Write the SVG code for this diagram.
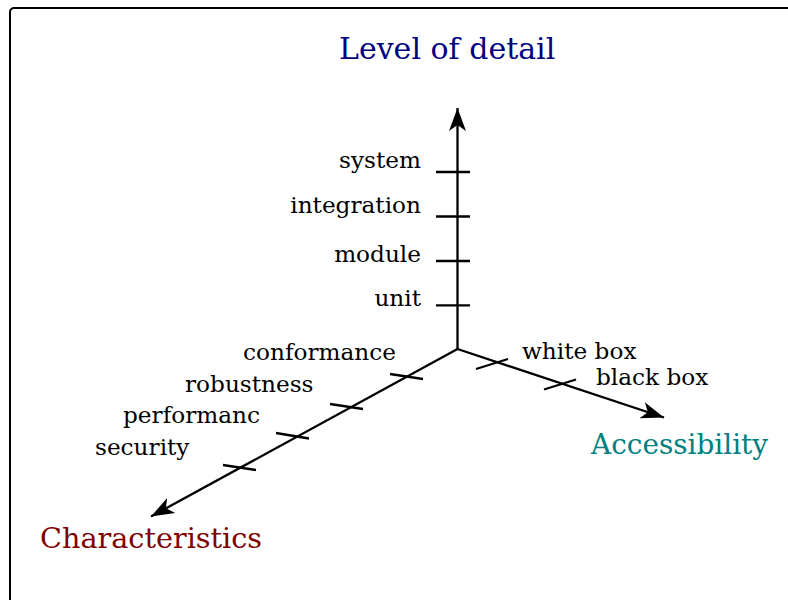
<svg xmlns="http://www.w3.org/2000/svg" width="788" height="600" viewBox="0 0 788 600">
<style>
.lbl{font-family:"DejaVu Serif",serif;font-size:23.2px;fill:#000}
.ttl{font-family:"DejaVu Serif",serif}
.ax{stroke:#000;stroke-width:2.3;fill:none}
.tk{stroke:#000;stroke-width:2.3;fill:none}
</style>
<defs>
<marker id="arr" markerUnits="userSpaceOnUse" markerWidth="30" markerHeight="20" viewBox="-24 -10 26 20" refX="0" refY="0" orient="auto">
<path d="M0,0 L-23,-8.5 L-17,0 L-23,8.5 z" fill="#000"/>
</marker>
</defs>
<rect x="10" y="8" width="800" height="620" rx="4" fill="#fff" stroke="#000" stroke-width="2"/>
<g id="connectors">
<line class="ax" x1="457.5" y1="349" x2="457.5" y2="108" marker-end="url(#arr)"/>
<line class="ax" x1="457.5" y1="349" x2="664" y2="417.5" marker-end="url(#arr)"/>
<line class="ax" x1="457.5" y1="349" x2="151" y2="516.5" marker-end="url(#arr)"/>
</g>
<g id="ticks">
<line class="tk" x1="436" y1="172" x2="470" y2="172"/>
<line class="tk" x1="436" y1="216.5" x2="470" y2="216.5"/>
<line class="tk" x1="436" y1="261" x2="470" y2="261"/>
<line class="tk" x1="436" y1="305.3" x2="470" y2="305.3"/>
<line class="tk" x1="476" y1="369" x2="508" y2="359"/>
<line class="tk" x1="544" y1="389.5" x2="576" y2="379.5"/>
<line class="tk" x1="390" y1="374" x2="423" y2="379"/>
<line class="tk" x1="330" y1="404" x2="363" y2="409"/>
<line class="tk" x1="276" y1="433" x2="309" y2="438.5"/>
<line class="tk" x1="223" y1="465" x2="256" y2="470"/>
</g>
<g id="level-of-detail"><text class="ttl" x="339" y="59" font-size="30" fill="#000080">Level of detail</text></g>
<g id="accessibility"><text class="ttl" x="591" y="454" font-size="27.9" fill="#008080">Accessibility</text></g>
<g id="characteristics"><text class="ttl" x="40" y="548" font-size="28.7" fill="#800000">Characteristics</text></g>
<g id="system"><text class="lbl" x="421" y="168" text-anchor="end">system</text></g>
<g id="integration"><text class="lbl" x="421" y="212.5" text-anchor="end">integration</text></g>
<g id="module"><text class="lbl" x="421" y="262" text-anchor="end">module</text></g>
<g id="unit"><text class="lbl" x="421" y="306" text-anchor="end">unit</text></g>
<g id="conformance"><text class="lbl" x="243" y="360">conformance</text></g>
<g id="robustness"><text class="lbl" x="185" y="392">robustness</text></g>
<g id="performanc"><text class="lbl" x="123" y="423">performanc</text></g>
<g id="security"><text class="lbl" x="95" y="455">security</text></g>
<g id="white-box"><text class="lbl" x="522" y="359">white box</text></g>
<g id="black-box"><text class="lbl" x="596" y="385">black box</text></g>
</svg>
